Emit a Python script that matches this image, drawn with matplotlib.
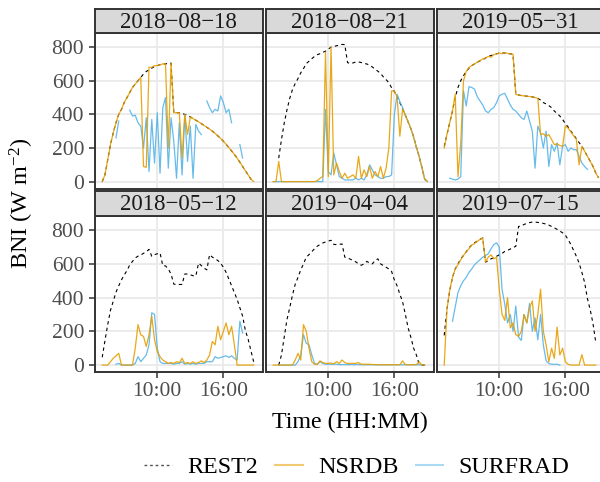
import numpy as np
import matplotlib
matplotlib.use('Agg')
import matplotlib.pyplot as plt
from matplotlib.lines import Line2D

nan = np.nan

plt.rcParams['font.family'] = ['Liberation Serif', 'DejaVu Serif']
plt.rcParams['mathtext.fontset'] = 'custom'
plt.rcParams['mathtext.rm'] = 'Liberation Serif'
plt.rcParams['mathtext.it'] = 'Liberation Serif:italic'

# 15-minute sampling, 05:00 .. 19:00 (hours)
hours = np.arange(5.0, 19.01, 0.25)

days = ['2018−08−18', '2018−08−21', '2019−05−31',
        '2018−05−12', '2019−04−04', '2019−07−15']

# ---- 2018-08-18
rest2_a = [0, 40, 130, 220, 290, 350, 400, 430, 470, 500, 530, 560,
           580, 600, 620, 640, 655, 665, 675, 685, 690, 695, 700, 700,
           705, 705, 410, 410, 410, 405, 400, 393, 385, 375, 365, 355,
           345, 334, 323, 312, 300, 287, 272, 257, 240, 222, 202, 182,
           162, 140, 115, 90, 65, 40, 15, 0, nan]
nsrdb_a = [0, 40, 130, 220, 290, 350, 400, 430, 470, 500, 530, 560,
           580, 600, 620, 90, 85, 680, 680, 690, 690, 695, 700, 700,
           200, 705, 410, 410, 410, 140, 400, 280, 385, 375, 365, 355,
           345, 334, 323, 312, 300, 287, 272, 257, 240, 222, 202, 182,
           162, 140, 115, 90, 65, 40, 15, 0, nan]
surf_a = [nan, nan, nan, nan, nan, 260, 360, nan, nan, nan, 425, 390,
          395, 350, 330, 200, 380, 60, 370, 110, 410, 50, 440, 500,
          80, 380, 240, 20, 350, 40, 400, 120, 330, 20, 340, 300,
          280, nan, 480, 440, 410, 430, 420, 510, 470, 410, 430, 350,
          nan, nan, 220, 140, nan, nan, nan, nan, nan]

# ---- 2018-08-21
rest2_b = [nan, nan, 140, 250, 348, 427, 495, 548, 584, 613, 647, 672,
           702, 716, 731, 745, 755, 761, 769, 776, 788, 800, 804, 808,
           812, 816, 815, 708, 702, 706, 712, 712, 708, 702, 700, 692,
           682, 668, 657, 643, 623, 607, 588, 558, 537, 505, 470, 432,
           395, 355, 315, 265, 205, 150, 85, 15, 0]
nsrdb_b = [0, 0, 120, 0, 0, 0, 0, 0, 0, 0, 0, 0,
           0, 0, 0, 0, 5, 20, 30, 770, 30, 800, 40, 110,
           60, 20, 50, 20, 30, 40, 20, 150, 20, 70, 30, 90,
           20, 60, 30, 90, 20, 80, 200, 540, 537, 505, 270, 432,
           395, 355, 315, 265, 205, 150, 85, 15, 0]
surf_b = [0, 0, 0, 0, 0, 0, 0, 0, 0, 0, 0, 0,
          0, 0, 0, 0, 0, 0, 0, 430, 60, 40, 170, 100,
          30, 20, 10, 10, 10, 10, 20, 10, 20, 10, 40, 100,
          70, 40, 30, 20, 20, 30, 30, 40, 400, 520, 476, 440,
          395, 355, 315, 265, 205, 150, 85, 15, 0]

# ---- 2019-05-31
rest2_c = [210, 280, 350, 420, 500, 560, 600, 630, 655, 675, 690, 700,
           710, 718, 725, 735, 745, 750, 755, 760, 765, 765, 765, 763,
           760, 757, 519, 515, 512, 510, 508, 506, 504, 500, 495, 485,
           470, 462, 452, 440, 420, 405, 390, 370, 345, 325, 300, 278,
           255, 232, 210, 181, 151, 122, 92, 53, 24]
nsrdb_c = [200, 280, 350, 420, 520, 30, 230, 600, 655, 680, 690, 700,
           710, 720, 730, 735, 745, 740, 755, 760, 765, 760, 768, 763,
           760, 757, 519, 515, 512, 510, 508, 506, 504, 500, 495, 280,
           285, 270, 280, 250, 220, 225, 215, 210, 330, 318, 295, 273,
           250, 100, 210, 181, 151, 122, 92, 53, 24]
surf_c = [nan, nan, 20, 15, 10, 15, 30, 540, 450, 565, 560, 550,
          505, 480, 456, 420, 410, 430, 440, 470, 510, 520, 525, 490,
          456, 430, 420, 400, 380, 370, 420, 360, 300, 80, 330, 290,
          200, 300, 90, 220, 180, 230, 100, 210, 220, 180, 200, 190,
          190, 150, 112, 90, 73, nan, nan, nan, nan]

# ---- 2018-05-12
rest2_d = [46, 145, 240, 325, 378, 432, 470, 505, 535, 560, 594, 615,
           635, 646, 652, 663, 672, 686, 645, 655, 660, 665, 590, 588,
           570, 540, 480, 478, 478, 478, 540, 540, 535, 530, 528, 605,
           590, 575, 565, 655, 640, 630, 620, 605, 580, 550, 510, 470,
           430, 390, 340, 290, 205, 154, 86, 20, nan]
nsrdb_d = [0, 0, 0, 20, 40, 55, 70, 0, 0, 0, 0, 0,
           100, 240, 180, 170, 110, 180, 290, 150, 80, 50, 30, 20,
           10, 15, 10, 20, 15, 40, 10, 15, 10, 20, 10, 15,
           25, 15, 30, 60, 140, 120, 230, 150, 200, 250, 180, 230,
           120, 0, 0, 0, 0, 0, 0, 0, nan]
surf_d = [nan, nan, nan, nan, nan, 5, 10, 0, 0, 0, 0, 0,
          10, 50, 20, 40, 60, 120, 310, 300, 100, 20, 10, 10,
          10, 10, 5, 10, 10, 20, 5, 10, 5, 10, 5, 10,
          10, 10, 20, 20, 20, 50, 40, 45, 50, 55, 45, 55,
          40, 30, 260, 190, nan, nan, nan, nan, nan]

# ---- 2019-04-04
rest2_e = [nan, nan, 0, 60, 166, 270, 340, 415, 480, 520, 565, 600,
           640, 655, 672, 690, 705, 715, 724, 730, 735, 740, 716, 714,
           716, 718, 640, 635, 628, 620, 612, 600, 592, 600, 615, 605,
           600, 620, 630, 600, 590, 580, 570, 555, 505, 470, 420, 375,
           300, 221, 165, 100, 60, 5, 0, 0, nan]
nsrdb_e = [0, 0, 0, 0, 0, 0, 0, 0, 30, 70, 30, 240,
           200, 100, 20, 5, 5, 25, 15, 10, 10, 12, 8, 20,
           10, 30, 15, 10, 10, 10, 10, 15, 5, 5, 5, 5,
           3, 3, 2, 2, 2, 2, 2, 2, 2, 2, 2, 25,
           2, 2, 2, 2, 2, 20, 0, 0, nan]
surf_e = [nan, nan, 0, 0, 0, 0, 0, 0, 0, 20, 60, 180,
          130, 120, 60, 10, 5, 20, 10, 5, 5, 5, 5, 5,
          3, 3, 3, 3, 3, 3, 3, 3, 2, 2, 2, 2,
          2, 2, 2, 2, 2, 2, 2, 2, 2, 2, 2, 2,
          2, 2, 2, 2, 2, 2, 0, nan, nan]

# ---- 2019-07-15
rest2_f = [176, 330, 440, 520, 570, 600, 630, 650, 672, 695, 712, 725,
           735, 745, 754, 610, 620, 630, 636, 645, 654, 662, 674, 680,
           688, 698, 704, 822, 824, 834, 840, 845, 848, 848, 846, 844,
           840, 836, 830, 822, 814, 805, 795, 784, 770, 744, 715, 680,
           645, 605, 550, 490, 395, 330, 250, 140, nan]
nsrdb_f = [0, 330, 445, 520, 570, 595, 625, 650, 672, 690, 712, 720,
           734, 745, 754, 610, 640, 654, 630, 640, 450, 300, 265, 400,
           220, 250, 180, 170, 200, 300, 250, 340, 380, 200, 300, 450,
           200, 120, 20, 100, 40, 225, 60, 100, 20, 5, 0, 0,
           0, 0, 62, 0, 0, 0, 0, 0, nan]
surf_f = [nan, nan, nan, 260, 345, 430, 470, 500, 520, 550, 570, 595,
          610, 624, 640, 650, 660, 690, 714, 725, 700, 450, 360, 250,
          300, 200, 350, 166, 146, 300, 250, 365, 200, 280, 150, 300,
          120, 26, 10, 5, 5, 5, 0, nan, nan, nan, nan, nan,
          nan, nan, nan, nan, nan, nan, nan, nan, nan]

rest2 = [rest2_a, rest2_b, rest2_c, rest2_d, rest2_e, rest2_f]
nsrdb = [nsrdb_a, nsrdb_b, nsrdb_c, nsrdb_d, nsrdb_e, nsrdb_f]
surfrad = [surf_a, surf_b, surf_c, surf_d, surf_e, surf_f]

c_nsrdb = '#E69F00'
c_surf = '#56B4E9'
dark = '#333333'

W, H = 600, 482
fig = plt.figure(figsize=(W / 100, H / 100), dpi=100)


def rect(x0, y0, x1, y1):
    return [x0 / W, 1 - y1 / H, (x1 - x0) / W, (y1 - y0) / H]


cols = [(94.5, 263.0), (265.5, 434.0), (436.5, 605.0)]
panel_rows = [(33.0, 188.5), (216.0, 372.0)]
strip_rows = [(9.0, 33.0), (191.0, 216.0)]

for k in range(6):
    r, c = divmod(k, 3)
    x0, x1 = cols[c]
    ax = fig.add_axes(rect(x0, panel_rows[r][0], x1, panel_rows[r][1]))
    ax.set_axisbelow(True)
    ax.grid(color='#EBEBEB', lw=1.4)
    ax.plot(hours, rest2[k], color='black', lw=0.8, ls=(0, (3, 3)), zorder=2)
    ax.plot(hours, surfrad[k], color=c_surf, lw=0.9, alpha=0.9, zorder=3)
    ax.plot(hours, nsrdb[k], color=c_nsrdb, lw=0.9, alpha=0.9, zorder=4)
    ax.set_xlim(4.3, 19.6)
    ax.set_ylim(-41, 884)
    ax.set_xticks([10, 16])
    ax.set_yticks([0, 200, 400, 600, 800])
    for s in ax.spines.values():
        s.set_color(dark)
        s.set_linewidth(1.4)
        s.set_zorder(5)
    ax.tick_params(colors=dark, labelcolor='#4D4D4D', labelsize=15.5,
                   length=4.5, width=1.1, pad=3)
    if c == 0:
        ax.set_yticklabels(['0', '200', '400', '600', '800'])
    else:
        ax.tick_params(axis='y', length=0, labelleft=False)
    if r == 1:
        ax.set_xticklabels(['10:00', '16:00'])
    else:
        ax.tick_params(axis='x', length=0, labelbottom=False)

    sax = fig.add_axes(rect(x0, strip_rows[r][0], x1, strip_rows[r][1]))
    sax.set_facecolor('#D9D9D9')
    sax.set_xticks([])
    sax.set_yticks([])
    for s in sax.spines.values():
        s.set_color(dark)
        s.set_linewidth(1.4)
    sax.text(0.5, 0.45, days[k], ha='center', va='center', fontsize=16.5,
             color='#1A1A1A', transform=sax.transAxes)

fig.text(350 / W, 1 - 422 / H, 'Time (HH:MM)', ha='center', va='center',
         fontsize=17.3, color='black')
fig.text(22 / W, 1 - 203 / H, r'BNI (W m$^{-2}$)', ha='center', va='center',
         rotation=90, fontsize=17.5, color='black')

handles = [Line2D([], [], color='#555555', lw=1, ls=(0, (2, 2))),
           Line2D([], [], color=c_nsrdb, lw=1.5, alpha=0.55),
           Line2D([], [], color=c_surf, lw=1.5, alpha=0.5)]
fig.legend(handles, ['REST2', 'NSRDB', 'SURFRAD'], loc='center',
           bbox_to_anchor=(357 / W, 1 - 467 / H), ncol=3, frameon=False,
           fontsize=17.3, handlelength=1.15, handletextpad=0.65,
           columnspacing=0.7)

fig.savefig('out.png', dpi=100)
